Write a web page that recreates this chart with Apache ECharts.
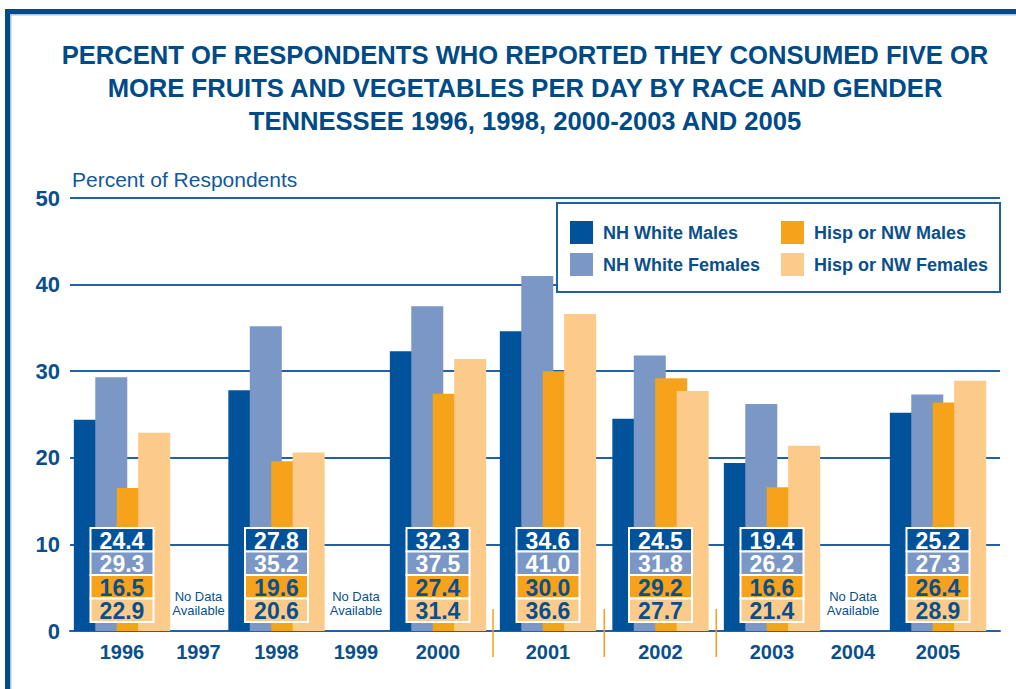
<!DOCTYPE html>
<html>
<head>
<meta charset="utf-8">
<script src="https://cdn.jsdelivr.net/npm/echarts@6/dist/echarts.min.js"></script>
<style>
html,body{margin:0;padding:0;background:#fff;}
#chart{width:1016px;height:689px;}
</style>
</head>
<body>
<div id="chart"></div>
<script>
// ---- data ----
const years = ['1996','1997','1998','1999','2000','2001','2002','2003','2004','2005'];
const nhWhiteMales   = [24.4, null, 27.8, null, 32.3, 34.6, 24.5, 19.4, null, 25.2];
const nhWhiteFemales = [29.3, null, 35.2, null, 37.5, 41.0, 31.8, 26.2, null, 27.3];
const hispNwMales    = [16.5, null, 19.6, null, 27.4, 30.0, 29.2, 16.6, null, 26.4];
const hispNwFemales  = [22.9, null, 20.6, null, 31.4, 36.6, 27.7, 21.4, null, 28.9];
const seriesNames = ['NH White Males','NH White Females','Hisp or NW Males','Hisp or NW Females'];
const yTicks = [0, 10, 20, 30, 40, 50];
const noDataLines = ['No Data', 'Available'];

// ---- layout (uneven spacing of the year groups along the axis) ----
const slotX = [52, 128.5, 206.5, 286, 368, 478, 590.5, 702, 783, 868];
const axisSpan = 930;
const colors = ['#00539b', '#7a97c5', '#f7a21b', '#fdcb89'];
const textBlue = '#0a4f8c';
const lineBlue = '#2361a3';
const FONT = '"Liberation Sans", Arial, sans-serif';

const allSeries = [nhWhiteMales, nhWhiteFemales, hispNwMales, hispNwFemales];

function barData(vals) {
  const out = [];
  vals.forEach((v, i) => { if (v != null) out.push([slotX[i], v]); });
  return out;
}
const boxData = [];
const noData = [];
years.forEach((y, i) => {
  if (nhWhiteMales[i] != null) boxData.push([slotX[i], 0, i]);
  else noData.push([slotX[i], 0, i]);
});
// separators between 2000|2001, 2001|2002, 2002|2003
const sepData = [[4,5],[5,6],[6,7]].map(p => [(slotX[p[0]] + slotX[p[1]]) / 2, 0]);

const chart = echarts.init(document.getElementById('chart'), null, {renderer: 'svg'});

const bars = seriesNames.map((name, k) => ({
  name: name,
  type: 'bar',
  data: barData(allSeries[k]),
  barWidth: 32,
  barGap: '-33%',
  itemStyle: {color: colors[k]},
  z: 2
}));

function renderBox(params, api) {
  const i = api.value(2);
  const cx = api.coord([api.value(0), 0])[0];
  const base = api.coord([0, 0])[1];
  const w = 63, rh = 23.5, top = base - 103;
  const children = [];
  for (let k = 0; k < 4; k++) {
    const v = allSeries[k][i];
    children.push({
      type: 'rect',
      shape: {x: cx - w / 2, y: top + k * rh, width: w, height: rh},
      style: {fill: colors[k], stroke: '#ffffff', lineWidth: 2}
    });
    children.push({
      type: 'text',
      style: {
        text: v.toFixed(1), x: cx, y: top + k * rh + rh / 2 + 1,
        align: 'center', verticalAlign: 'middle',
        fill: k < 2 ? '#ffffff' : textBlue,
        font: 'bold 23px ' + FONT
      }
    });
  }
  return {type: 'group', children: children};
}

function renderNoData(params, api) {
  const cx = api.coord([api.value(0), 0])[0];
  const base = api.coord([0, 0])[1];
  return {
    type: 'group',
    children: noDataLines.map((t, k) => ({
      type: 'text',
      style: {
        text: t, x: cx, y: base - 35 + k * 14,
        align: 'center', verticalAlign: 'middle',
        fill: textBlue,
        font: '13px "Liberation Sans Narrow", "Liberation Sans", sans-serif'
      }
    }))
  };
}

function renderSep(params, api) {
  const cx = api.coord([api.value(0), 0])[0];
  const base = api.coord([0, 0])[1];
  return {
    type: 'line',
    shape: {x1: cx, y1: base - 22, x2: cx, y2: base + 26},
    style: {stroke: '#f6a01a', lineWidth: 1.5}
  };
}

const option = {
  backgroundColor: '#ffffff',
  animation: false,
  title: {
    text: 'PERCENT OF RESPONDENTS WHO REPORTED THEY CONSUMED FIVE OR\nMORE FRUITS AND VEGETABLES PER DAY BY RACE AND GENDER\nTENNESSEE 1996, 1998, 2000-2003 AND 2005',
    left: 520, top: 33, textAlign: 'center',
    textStyle: {
      color: '#004b87', fontSize: 25.6, fontWeight: 'bold', lineHeight: 33,
      fontFamily: FONT
    }
  },
  graphic: [
    {type: 'rect', shape: {x: 5, y: 9, width: 1011, height: 5}, style: {fill: '#004a85'}, z: 1},
    {type: 'rect', shape: {x: 5, y: 9, width: 5, height: 680}, style: {fill: '#004a85'}, z: 1},
    {type: 'rect', shape: {x: 10, y: 14, width: 1006, height: 1.5}, style: {fill: '#a9c4e4'}, z: 1},
    {type: 'rect', shape: {x: 10, y: 14, width: 1.5, height: 675}, style: {fill: '#a9c4e4'}, z: 1},
    {type: 'rect', shape: {x: 557, y: 203, width: 443, height: 89},
     style: {fill: '#ffffff', stroke: '#1f5fa0', lineWidth: 2}, z: 5}
  ],
  legend: [
    {
      data: [seriesNames[0], seriesNames[1]],
      orient: 'vertical', left: 570, top: 221, padding: 0,
      itemWidth: 23, itemHeight: 23, itemGap: 9, icon: 'rect',
      textStyle: {color: textBlue, fontSize: 18, fontWeight: 'bold', padding: [0, 0, 3, 5],
                  fontFamily: FONT},
      z: 10
    },
    {
      data: [seriesNames[2], seriesNames[3]],
      orient: 'vertical', left: 781, top: 221, padding: 0,
      itemWidth: 23, itemHeight: 23, itemGap: 9, icon: 'rect',
      textStyle: {color: textBlue, fontSize: 18, fontWeight: 'bold', padding: [4, 0, 0, 5],
                  fontFamily: FONT},
      z: 10
    }
  ],
  grid: {left: 70, right: 16, top: 198, bottom: 58, containLabel: false},
  xAxis: {
    type: 'value', min: 0, max: axisSpan,
    splitLine: {show: false},
    axisTick: {show: false},
    axisLine: {show: true, lineStyle: {color: lineBlue, width: 2}},
    axisLabel: {
      customValues: slotX,
      formatter: function (v) { const i = slotX.indexOf(v); return i >= 0 ? years[i] : ''; },
      color: textBlue, fontSize: 20, fontWeight: 'bold', margin: 11,
      fontFamily: FONT
    }
  },
  yAxis: {
    type: 'value', min: yTicks[0], max: yTicks[yTicks.length - 1], interval: 10,
    name: 'Percent of Respondents', nameLocation: 'end', nameGap: 8,
    nameTextStyle: {align: 'left', color: '#10599c', fontSize: 21, padding: [0, 0, 0, 2],
                    fontFamily: FONT},
    axisLine: {show: false}, axisTick: {show: false},
    splitLine: {show: true, lineStyle: {color: lineBlue, width: 2}},
    axisLabel: {color: textBlue, fontSize: 22, fontWeight: 'bold', margin: 10,
                fontFamily: FONT}
  },
  series: bars.concat([
    {type: 'custom', name: 'boxes', data: boxData, renderItem: renderBox, z: 6, silent: true,
     encode: {x: 0, y: 1}},
    {type: 'custom', name: 'nodata', data: noData, renderItem: renderNoData, z: 6, silent: true,
     encode: {x: 0, y: 1}},
    {type: 'custom', name: 'sep', data: sepData, renderItem: renderSep, z: 6, silent: true,
     encode: {x: 0, y: 1}, clip: false}
  ])
};
chart.setOption(option);
</script>
</body>
</html>
